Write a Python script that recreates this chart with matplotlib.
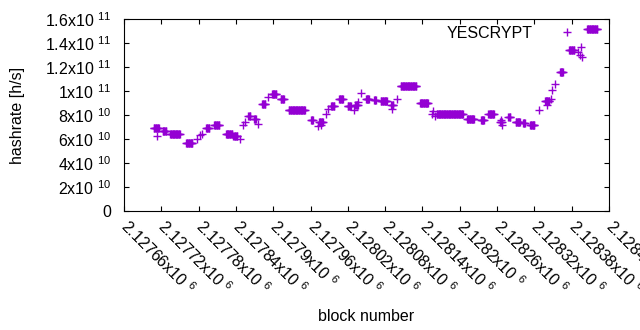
import numpy as np
import matplotlib
matplotlib.use('Agg')
import matplotlib.pyplot as plt
from matplotlib.transforms import ScaledTranslation

plt.rcParams['font.family'] = ['Liberation Sans', 'DejaVu Sans']
plt.rcParams['mathtext.fontset'] = 'custom'
plt.rcParams['mathtext.rm'] = 'Liberation Sans'
plt.rcParams['mathtext.it'] = 'Liberation Sans'
plt.rcParams['font.size'] = 11.5

# runs of blocks sharing one hashrate value (in units of 1e10 h/s)
run_start = [2127708, 2127722, 2127734, 2127760, 2127792, 2127805, 2127824, 2127836,
             2127860, 2127869, 2127882, 2127898, 2127912, 2127925, 2127961, 2127974,
             2127993, 2128006, 2128020, 2128032, 2128049, 2128062, 2128073, 2128090,
             2128105, 2128136, 2128163, 2128212, 2128234, 2128246, 2128265, 2128278,
             2128290, 2128302, 2128313, 2128337, 2128361, 2128376, 2128405]
run_end = [2127716, 2127728, 2127750, 2127770, 2127797, 2127813, 2127834, 2127842,
           2127863, 2127872, 2127887, 2127905, 2127917, 2127951, 2127964, 2127980,
           2127998, 2128012, 2128025, 2128036, 2128054, 2128065, 2128083, 2128093,
           2128130, 2128149, 2128205, 2128223, 2128239, 2128255, 2128268, 2128281,
           2128297, 2128305, 2128320, 2128344, 2128366, 2128384, 2128421]
run_value = [6.95, 6.7, 6.45, 5.67, 6.95, 7.14, 6.45, 6.25,
             7.9, 7.7, 8.95, 9.78, 9.3, 8.39, 7.6, 7.42,
             8.75, 9.37, 8.75, 8.8, 9.37, 9.28, 9.14, 8.8,
             10.4, 9.03, 8.1, 7.7, 7.56, 8.1, 7.42, 7.83,
             7.42, 7.33, 7.14, 9.2, 11.6, 13.45, 15.2]

# isolated blocks
single_block = [2127713, 2127777, 2127782, 2127785, 2127847, 2127851, 2127855, 2127876,
                2127892, 2127972, 2127977, 2127985, 2127988, 2128030, 2128037, 2128041,
                2128091, 2128099, 2128155, 2128157, 2128160, 2128266, 2128268, 2128328,
                2128341, 2128346, 2128348, 2128353, 2128390, 2128393, 2128395, 2128396]
single_value = [6.25, 6.03, 6.3, 6.45, 6.0, 7.14, 7.4, 7.28,
                9.5, 7.06, 7.2, 8.1, 8.5, 8.4, 9.1, 9.87,
                8.47, 9.37, 8.1, 8.35, 7.9, 7.6, 7.2, 8.39,
                8.8, 9.37, 10.05, 10.6, 13.25, 12.97, 13.67, 12.8]

x_ticks = list(range(2127660, 2128441, 60))
x_labels = ['%gx10 $^{6}$' % (v / 1e6) for v in x_ticks]
y_ticks = [0, 2e10, 4e10, 6e10, 8e10, 1e11, 1.2e11, 1.4e11, 1.6e11]
y_labels = ['0', '2x10 $^{10}$', '4x10 $^{10}$', '6x10 $^{10}$', '8x10 $^{10}$',
            '1x10 $^{11}$', '1.2x10 $^{11}$', '1.4x10 $^{11}$', '1.6x10 $^{11}$']

blocks = []
rates = []
for s, e, v in zip(run_start, run_end, run_value):
    for b in range(s, e + 1):
        blocks.append(b)
        rates.append(v * 1e10)
blocks += single_block
rates += [v * 1e10 for v in single_value]

fig = plt.figure(figsize=(6.4, 3.3), dpi=100)
ax = fig.add_axes([124 / 640, 1 - 211 / 330, (609 - 124) / 640, (211 - 19) / 330])

ax.plot(blocks, rates, '+', color='#9400d3', markersize=5.5, markeredgewidth=1.0,
        linestyle='none', label='YESCRYPT')

ax.set_xlim(x_ticks[0], x_ticks[-1])
ax.set_ylim(0, 1.6e11)
ax.set_xticks(x_ticks)
ax.set_xticklabels(x_labels, rotation=-45, ha='left', va='center', rotation_mode='anchor')
shift = ScaledTranslation(0.04, 0, fig.dpi_scale_trans)
for lab in ax.get_xticklabels():
    lab.set_transform(lab.get_transform() + shift)
ax.set_yticks(y_ticks)
ax.set_yticklabels(y_labels)
ax.tick_params(direction='in', length=3.5, width=0.8, top=True, right=True)
ax.tick_params(axis='y', pad=9)
ax.tick_params(axis='x', pad=9)
for sp in ax.spines.values():
    sp.set_linewidth(0.8)

ax.set_xlabel('block number', labelpad=8)
ax.set_ylabel('hashrate [h/s]', labelpad=14)

ax.legend(loc='upper right', bbox_to_anchor=(0.985, 1.04), frameon=False, markerfirst=False,
          handlelength=2.5, handletextpad=0.9, fontsize=11.5)

fig.savefig('out.png', dpi=100)
